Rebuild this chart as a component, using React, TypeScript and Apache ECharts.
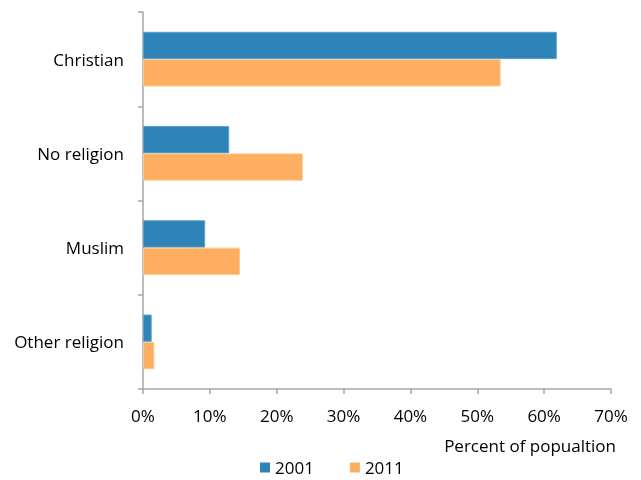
import React, { useEffect, useRef } from "react";
import * as echarts from "echarts";

const categories = ["Christian", "No religion", "Muslim", "Other religion"];
const seriesNames = ["2001", "2011"];
const values2001 = [61.9, 12.9, 9.3, 1.3];
const values2011 = [53.5, 23.9, 14.5, 1.7];
const axisTitle = "Percent of popualtion";

const FONT = "'Open Sans', 'Noto Sans', sans-serif";
const FONT_SIZE = 17;
const AXIS_GREY = "#a6a6a6";

export default function App() {
  const ref = useRef<HTMLDivElement>(null);

  useEffect(() => {
    if (!ref.current) return;
    const chart = echarts.init(ref.current, null, { renderer: "svg" });
    chart.setOption({
      animation: false,
      textStyle: { fontFamily: FONT },
      grid: { left: 143, right: 30, top: 12, bottom: 91 },
      legend: {
        data: seriesNames,
        left: 260,
        top: 459,
        padding: 0,
        itemWidth: 10,
        itemHeight: 10,
        itemGap: 36,
        icon: "rect",
        itemStyle: { borderWidth: 0 },
        textStyle: {
          fontFamily: FONT,
          fontSize: FONT_SIZE,
          lineHeight: 17,
          color: "#000",
        },
      },
      xAxis: {
        type: "value",
        min: 0,
        max: 70,
        interval: 10,
        axisLine: { show: true, lineStyle: { color: AXIS_GREY, width: 1.5 } },
        axisTick: { show: true, length: 5, lineStyle: { color: AXIS_GREY, width: 1.5 } },
        splitLine: { show: false },
        axisLabel: {
          formatter: "{value}%",
          fontFamily: FONT,
          fontSize: FONT_SIZE,
          color: "#000",
          margin: 18,
        },
      },
      yAxis: {
        type: "category",
        data: categories,
        inverse: true,
        axisLine: { show: true, lineStyle: { color: AXIS_GREY, width: 1.5 } },
        axisTick: { show: true, length: 5, lineStyle: { color: AXIS_GREY, width: 1.5 } },
        axisLabel: { fontFamily: FONT, fontSize: FONT_SIZE, color: "#000", margin: 19 },
      },
      graphic: [
        {
          type: "text",
          x: 616,
          y: 445,
          style: {
            text: axisTitle,
            fontFamily: FONT,
            fontSize: FONT_SIZE,
            fill: "#000",
            textAlign: "right",
            textVerticalAlign: "middle",
          },
        },
      ],
      series: [
        {
          name: seriesNames[0],
          type: "bar",
          data: values2001,
          barGap: "0%",
          barCategoryGap: "42%",
          itemStyle: { color: "#2e83b9", borderColor: "#5ba2d2", borderWidth: 1 },
        },
        {
          name: seriesNames[1],
          type: "bar",
          data: values2011,
          barGap: "0%",
          barCategoryGap: "42%",
          itemStyle: { color: "#fdae61", borderColor: "#fdc890", borderWidth: 1 },
        },
      ],
    });
    return () => chart.dispose();
  }, []);

  return (
    <div
      ref={ref}
      style={{ position: "fixed", left: 0, top: 0, width: 641, height: 480 }}
    />
  );
}
